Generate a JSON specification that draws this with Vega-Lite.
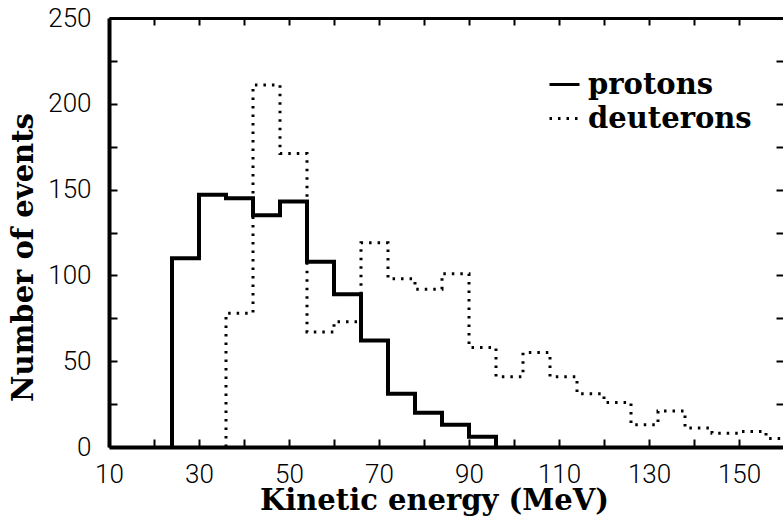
{
  "$schema": "https://vega.github.io/schema/vega-lite/v6.json",
  "width": 675,
  "height": 429,
  "autosize": {"type": "none"},
  "padding": {"left": 109, "top": 18, "right": 0, "bottom": 75},
  "background": "white",
  "config": {"view": {"stroke": null}},
  "data": {
    "values": [
      {"series": "protons", "i": 0, "E": 24, "n": 0},
      {"series": "protons", "i": 1, "E": 24, "n": 110},
      {"series": "protons", "i": 2, "E": 30, "n": 147},
      {"series": "protons", "i": 3, "E": 36, "n": 145},
      {"series": "protons", "i": 4, "E": 42, "n": 135},
      {"series": "protons", "i": 5, "E": 48, "n": 143},
      {"series": "protons", "i": 6, "E": 54, "n": 108},
      {"series": "protons", "i": 7, "E": 60, "n": 89},
      {"series": "protons", "i": 8, "E": 66, "n": 62},
      {"series": "protons", "i": 9, "E": 72, "n": 31},
      {"series": "protons", "i": 10, "E": 78, "n": 20},
      {"series": "protons", "i": 11, "E": 84, "n": 13},
      {"series": "protons", "i": 12, "E": 90, "n": 6},
      {"series": "protons", "i": 13, "E": 96, "n": 0},
      {"series": "deuterons", "i": 0, "E": 36, "n": 0},
      {"series": "deuterons", "i": 1, "E": 36, "n": 78},
      {"series": "deuterons", "i": 2, "E": 42, "n": 211},
      {"series": "deuterons", "i": 3, "E": 48, "n": 171},
      {"series": "deuterons", "i": 4, "E": 54, "n": 67},
      {"series": "deuterons", "i": 5, "E": 60, "n": 73},
      {"series": "deuterons", "i": 6, "E": 66, "n": 119},
      {"series": "deuterons", "i": 7, "E": 72, "n": 98},
      {"series": "deuterons", "i": 8, "E": 78, "n": 92},
      {"series": "deuterons", "i": 9, "E": 84, "n": 101},
      {"series": "deuterons", "i": 10, "E": 90, "n": 58},
      {"series": "deuterons", "i": 11, "E": 96, "n": 41},
      {"series": "deuterons", "i": 12, "E": 102, "n": 55},
      {"series": "deuterons", "i": 13, "E": 108, "n": 41},
      {"series": "deuterons", "i": 14, "E": 114, "n": 31},
      {"series": "deuterons", "i": 15, "E": 120, "n": 26},
      {"series": "deuterons", "i": 16, "E": 126, "n": 13},
      {"series": "deuterons", "i": 17, "E": 132, "n": 21},
      {"series": "deuterons", "i": 18, "E": 138, "n": 11},
      {"series": "deuterons", "i": 19, "E": 144, "n": 8},
      {"series": "deuterons", "i": 20, "E": 150, "n": 9},
      {"series": "deuterons", "i": 21, "E": 156, "n": 5},
      {"series": "deuterons", "i": 22, "E": 160, "n": 5}
    ]
  },
  "layer": [
    {
      "transform": [{"filter": "datum.series == 'protons'"}],
      "mark": {"type": "line", "interpolate": "step-after", "color": "black", "strokeWidth": 4, "strokeJoin": "miter", "strokeCap": "butt"},
      "encoding": {
        "x": {
          "field": "E", "type": "quantitative",
          "scale": {"domain": [10, 160], "nice": false, "zero": false},
          "axis": {
            "orient": "bottom",
            "values": [10, 20, 30, 40, 50, 60, 70, 80, 90, 100, 110, 120, 130, 140, 150, 160],
            "labelExpr": "datum.value % 20 == 10 ? datum.label : ''",
            "domainColor": "black", "domainWidth": 4,
            "tickColor": "black", "tickWidth": 2, "tickSize": -8,
            "labelFont": "Roboto", "labelFontWeight": 300, "labelFontSize": 26, "labelColor": "black",
            "labelPadding": 22, "labelFlush": false, "labelOverlap": false,
            "grid": false,
            "title": "Kinetic energy (MeV)",
            "titleFont": "DejaVu Serif", "titleFontWeight": "bold", "titleFontSize": 29, "titleColor": "black",
            "titleX": 325, "titleY": 62, "titleAlign": "center", "titleBaseline": "alphabetic"
          }
        },
        "y": {
          "field": "n", "type": "quantitative",
          "scale": {"domain": [0, 250], "nice": false},
          "axis": {
            "orient": "left",
            "values": [0, 25, 50, 75, 100, 125, 150, 175, 200, 225, 250],
            "labelExpr": "datum.value % 50 == 0 ? datum.label : ''",
            "domainColor": "black", "domainWidth": 4,
            "tickColor": "black", "tickWidth": 2, "tickSize": -8,
            "labelFont": "Roboto", "labelFontWeight": 300, "labelFontSize": 26, "labelColor": "black",
            "labelPadding": 26, "labelFlush": false, "labelOverlap": false,
            "grid": false,
            "title": "Number of events",
            "titleFont": "DejaVu Serif", "titleFontWeight": "bold", "titleFontSize": 29, "titleColor": "black",
            "titleX": -77, "titleY": 239, "titleAngle": -90, "titleAlign": "center", "titleBaseline": "alphabetic"
          }
        },
        "order": {"field": "i", "type": "quantitative"},
        "strokeDash": {
          "field": "series", "type": "nominal",
          "scale": {"domain": ["protons", "deuterons"], "range": [[1, 0], [2.5, 6]]},
          "legend": {
            "orient": "none", "legendX": 439, "legendY": 50,
            "title": null, "padding": 0,
            "symbolType": "stroke", "symbolSize": 900, "symbolStrokeWidth": 3, "symbolStrokeColor": "black",
            "labelFont": "DejaVu Serif", "labelFontWeight": "bold", "labelFontSize": 29, "labelColor": "black",
            "labelOffset": 7, "rowPadding": 2, "labelLimit": 0
          }
        }
      }
    },
    {
      "transform": [{"filter": "datum.series == 'deuterons'"}],
      "mark": {"type": "line", "interpolate": "step-after", "color": "black", "strokeWidth": 3, "strokeCap": "butt"},
      "encoding": {
        "x": {
          "field": "E", "type": "quantitative",
          "axis": {
            "orient": "top",
            "values": [10, 20, 30, 40, 50, 60, 70, 80, 90, 100, 110, 120, 130, 140, 150, 160],
            "labels": false, "title": null, "grid": false,
            "domainColor": "black", "domainWidth": 3,
            "tickColor": "black", "tickWidth": 2, "tickSize": -7
          }
        },
        "y": {
          "field": "n", "type": "quantitative",
          "axis": {
            "orient": "right",
            "values": [0, 25, 50, 75, 100, 125, 150, 175, 200, 225, 250],
            "labels": false, "title": null, "grid": false,
            "domainColor": "black", "domainWidth": 3,
            "tickColor": "black", "tickWidth": 2, "tickSize": -8
          }
        },
        "order": {"field": "i", "type": "quantitative"},
        "strokeDash": {"field": "series", "type": "nominal"}
      }
    }
  ]
}
